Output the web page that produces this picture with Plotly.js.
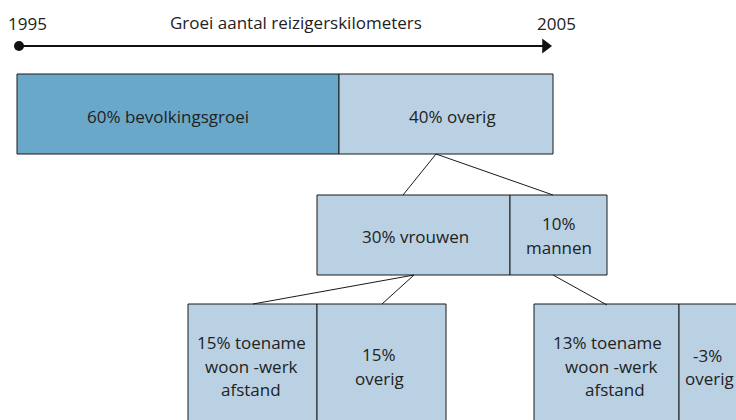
<!DOCTYPE html>
<html><head><meta charset="utf-8">
<script src="https://cdn.plot.ly/plotly-3.0.1.min.js"></script>
<style>html,body{margin:0;padding:0;background:#fff}#chart{width:736px;height:420px}</style>
</head><body><div id="chart"></div>
<script>
// ---- data ----
const startYear = '1995';
const endYear = '2005';
const timelineTitle = 'Groei aantal reizigerskilometers';
const level1Shares = [60, 40];
const level1Labels = ['bevolkingsgroei', 'overig'];
const level2Shares = [30, 10];
const level2Labels = ['vrouwen', 'mannen'];
const level3Shares = [15, 15, 13, -3];
const level3Labels = ['toename woon -werk afstand', 'overig', 'toename woon -werk afstand', 'overig'];

// ---- layout geometry (canvas pixels) ----
const FONT = {family: 'Open Sans, sans-serif', size: 17, color: '#222'};
const DARK = '#6aa8c9', LIGHT = '#b9d1e3', EDGE = '#1a1a1a';
const rows = [
  {shares: level1Shares, labels: level1Labels, top: 74, bottom: 154,
   edges: [[17, 339], [339, 553]], colors: [DARK, LIGHT],
   breaks: [[], []], textX: [168, 452], baselines: [[123], [123]]},
  {shares: level2Shares, labels: level2Labels, top: 195, bottom: 275,
   edges: [[317, 510], [510, 607]], colors: [LIGHT, LIGHT],
   breaks: [[], [1]], textX: [415, 559], baselines: [[243], [230, 254]]},
  {shares: level3Shares, labels: level3Labels, top: 304, bottom: 445,
   edges: [[188, 317], [317, 446], [534, 679], [679, 737]], colors: [LIGHT, LIGHT, LIGHT, LIGHT],
   breaks: [[2, 4], [1], [2, 4], [1]], textX: [[251, 251, 251], [379, 379], [607, 611, 615], [707, 709]],
   baselines: [[349, 373, 396], [361, 385], [349, 373, 396], [362, 385]]}
];
const connectors = [[436, 154, 403, 195], [436, 154, 553, 195], [414, 275, 253, 304], [414, 275, 382, 304], [553, 275, 607, 305]];
const timelineY = 46, timelineX0 = 19, timelineTip = 553;

const traces = [];
const annotations = [];

rows.forEach((r, ri) => {
  traces.push({
    type: 'bar', orientation: 'h',
    y: r.shares.map(() => (r.top + r.bottom) / 2),
    base: r.edges.map(e => e[0]),
    x: r.edges.map(e => e[1] - e[0]),
    width: r.shares.map(() => r.bottom - r.top),
    customdata: r.shares,
    marker: {color: r.colors, line: {color: EDGE, width: 1}},
    hoverinfo: 'skip', showlegend: false
  });
  r.shares.forEach((s, i) => {
    const words = (s + '% ' + r.labels[i]).split(' ');
    const cuts = [0].concat(r.breaks[i]).concat([words.length]);
    for (let k = 0; k < cuts.length - 1; k++) {
      const line = words.slice(cuts[k], cuts[k + 1]).join(' ');
      const tx = Array.isArray(r.textX[i]) ? r.textX[i][k] : r.textX[i];
      annotations.push({x: tx, y: r.baselines[i][k] - 6.5, text: line, showarrow: false,
        xanchor: 'center', yanchor: 'middle', font: FONT});
    }
  });
});

// connector lines
const cx = [], cy = [];
connectors.forEach(c => { cx.push(c[0], c[2], null); cy.push(c[1], c[3], null); });
traces.push({type: 'scatter', mode: 'lines', x: cx, y: cy, line: {color: EDGE, width: 1},
  hoverinfo: 'skip', showlegend: false});

// timeline
traces.push({type: 'scatter', mode: 'lines', x: [timelineX0, timelineTip - 10], y: [timelineY, timelineY],
  line: {color: '#111', width: 1.8}, hoverinfo: 'skip', showlegend: false});
traces.push({type: 'scatter', mode: 'markers', x: [timelineX0], y: [timelineY],
  marker: {symbol: 'circle', size: 10, color: '#111'}, hoverinfo: 'skip', showlegend: false});
traces.push({type: 'scatter', mode: 'markers', x: [timelineTip - 7.5], y: [timelineY],
  marker: {symbol: 'triangle-right', size: 13, color: '#111', line: {width: 0}}, hoverinfo: 'skip', showlegend: false});

annotations.push({x: 27.5, y: 23.5, text: startYear, showarrow: false, xanchor: 'center', yanchor: 'middle', font: FONT});
annotations.push({x: 296, y: 22.5, text: timelineTitle, showarrow: false, xanchor: 'center', yanchor: 'middle', font: FONT});
annotations.push({x: 556, y: 23.5, text: endYear, showarrow: false, xanchor: 'center', yanchor: 'middle', font: FONT});

const layout = {
  width: 736, height: 420,
  margin: {l: 0, r: 0, t: 0, b: 0, pad: 0},
  paper_bgcolor: '#fff', plot_bgcolor: '#fff',
  barmode: 'overlay', showlegend: false,
  xaxis: {range: [0, 736], visible: false, fixedrange: true},
  yaxis: {range: [420, 0], visible: false, fixedrange: true},
  annotations: annotations
};
Plotly.newPlot('chart', traces, layout, {staticPlot: true, displayModeBar: false});
</script>
</body></html>
